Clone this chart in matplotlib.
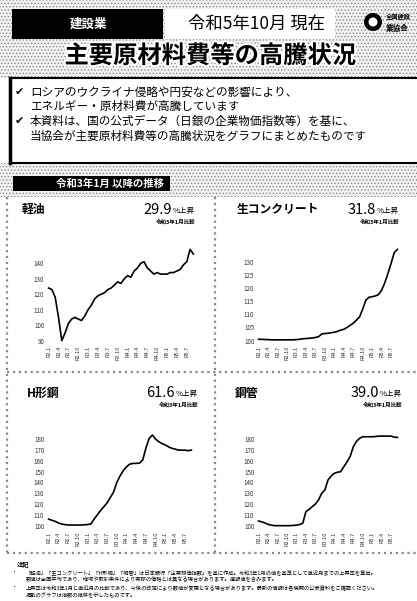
import matplotlib
matplotlib.use('Agg')
import matplotlib.pyplot as plt
import matplotlib.patheffects as pe
from matplotlib.patches import Rectangle, Circle

plt.rcParams['font.family'] = ['Noto Sans CJK JP', 'DejaVu Sans']
plt.rcParams['hatch.linewidth'] = 0.6

# ---------------- data ----------------
x_labels = ['R2.1', 'R2.4', 'R2.7', 'R2.10', 'R3.1', 'R3.4', 'R3.7', 'R3.10',
            'R4.1', 'R4.4', 'R4.7', 'R4.10', 'R5.1', 'R5.4', 'R5.7']

diesel = [124, 123, 118, 105, 90, 95, 101, 104, 105, 104, 103, 106, 110, 113, 117,
          119, 120, 121, 123, 124, 126, 128, 127, 130, 132, 131, 135, 137, 140, 141,
          137, 135, 133, 134, 133, 133, 133, 134, 134, 135, 136, 139, 141, 149, 146]

concrete = [100.5, 100.5, 100.4, 100.4, 100.3, 100.3, 100.3, 100.3, 100.3, 100.3, 100.3,
            100.3, 100.4, 100.5, 100.7, 100.8, 100.9, 101.0, 101.2, 101.5, 102.5, 102.7,
            102.8, 103.0, 103.2, 103.5, 104.0, 104.3, 105.0, 105.8, 106.6, 107.8, 109.0,
            112.0, 115.4, 116.5, 116.7, 117.0, 117.5, 119.2, 122.0, 125.5, 129.4, 133.5,
            134.7]

hbeam = [106, 105, 104, 102.5, 101.5, 101, 100.6, 100.6, 100.5, 100.6, 100.6, 100.8,
         101, 101.5, 106, 110, 114, 117.5, 121, 126, 131, 140, 146, 151, 154.6, 157,
         157.7, 157.7, 158, 160.8, 172, 181, 184, 180, 177.8, 176, 174.7, 173, 171.6,
         171, 170, 170, 170, 169.5, 170]

pipe = [104.3, 103.5, 102.5, 101.2, 100.5, 100, 100, 100, 100, 100, 100, 100.2, 100.5,
        101, 102.2, 113, 115, 117.6, 120, 123.8, 130, 133, 142.3, 146, 148.5, 149.5, 150,
        154.6, 159, 163.9, 173, 178, 180.9, 182.4, 182.4, 182.4, 182.4, 182.6, 183, 183,
        183, 183, 183, 182, 181.8]

titles = ['軽油', '生コンクリート', 'H形鋼', '鋼管']
rates = ['29.9', '31.8', '61.6', '39.0']
series = [diesel, concrete, hbeam, pipe]
yticks = [[90, 100, 110, 120, 130, 140],
          [100, 105, 110, 115, 120, 125, 130],
          [100, 110, 120, 130, 140, 150, 160, 170, 180],
          [100, 110, 120, 130, 140, 150, 160, 170, 180]]
ylims = [(88.5, 151.8), (99.1, 135.6), (96.9, 186.8), (96.9, 186.8)]

# ---------------- layout ----------------
W, H = 417, 601
fig = plt.figure(figsize=(4.17, 6.01), dpi=100)
fig.patch.set_facecolor('white')
bg = fig.add_axes([0, 0, 1, 1])
bg.set_xlim(0, W)
bg.set_ylim(H, 0)
bg.axis('off')


def ax_px(x0, y0, x1, y1):
    return fig.add_axes([x0 / W, 1 - y1 / H, (x1 - x0) / W, (y1 - y0) / H])


def dotted(x, y, w, h):
    bg.add_patch(Rectangle((x, y), w, h, facecolor='#f2f2f2', edgecolor='#8a8a8a',
                           hatch='.....', linewidth=0, zorder=0))


# header backgrounds
dotted(0, 0, W, 78)
dotted(0, 163, W, 34)

# black label box
bg.add_patch(Rectangle((12, 9), 151, 30, facecolor='black', zorder=2))
bg.text(88, 24, '建設業', color='white', fontsize=9, fontweight='bold',
        ha='center', va='center', zorder=3)
# date box
bg.add_patch(Rectangle((165, 9), 170, 30, facecolor='white', zorder=2))
bg.text(257, 24, '令和5年10月 現在', color='black', fontsize=12.5,
        ha='center', va='center', zorder=3)
# logo
bg.add_patch(Circle((373, 22), 9, facecolor='black', zorder=3))
bg.add_patch(Circle((373, 22), 4.5, facecolor='white', zorder=4))
bg.text(386, 17, '全国建設', fontsize=4.5, fontweight='bold', ha='left', va='center', zorder=3)
bg.text(386, 28, '業協会', fontsize=5.5, fontweight='bold', ha='left', va='center', zorder=3)

# title
bg.text(210, 56, '主要原材料費等の高騰状況', fontsize=17.5, fontweight='bold',
        ha='center', va='center', zorder=3,
        path_effects=[pe.withStroke(linewidth=3, foreground='white')])

# info box
bg.add_patch(Rectangle((10, 78), W, 85, facecolor='white', edgecolor='black',
                       linewidth=1.5, zorder=2))
bg.plot([10, 10], [78, 163], color='black', lw=2.5, zorder=3)
lines = [('✔', 'ロシアのウクライナ侵略や円安などの影響により、', 92),
         ('', 'エネルギー・原材料費が高騰しています', 106),
         ('✔', '本資料は、国の公式データ（日銀の企業物価指数等）を基に、', 121),
         ('', '当協会が主要原材料費等の高騰状況をグラフにまとめたものです', 136)]
for mark, txt, y in lines:
    if mark:
        bg.text(15, y, mark, fontsize=8, ha='left', va='center', zorder=3)
    bg.text(30, y, txt, fontsize=8.4, ha='left', va='center', zorder=3)

# section bar
bg.add_patch(Rectangle((13, 176), 157, 15, facecolor='black', zorder=2))
bg.text(110, 183.5, '令和3年1月 以降の推移', color='white', fontsize=7.5,
        fontweight='bold', ha='center', va='center', zorder=3)

# panel area
bg.add_patch(Rectangle((7, 197), W - 7, 356, facecolor='white', zorder=1))
sep = dict(color='#8a8a8a', lw=1.6, ls=':', zorder=2)
bg.plot([7, 7], [197, 553], **sep)
bg.plot([215, 215], [197, 553], **sep)
bg.plot([7, W], [372, 372], **sep)
bg.plot([7, W], [553, 553], **sep)

panel_title_pos = [(22, 209), (237, 210), (27, 393), (235, 393)]
rate_split = [172, 376, 175, 379]
rate_y = [210, 210, 393, 393]
axes_boxes = [(47, 245, 195, 343), (257, 247, 399, 343),
              (47, 432, 193, 529), (257, 432, 399, 529)]

months = list(range(len(diesel)))
tick_pos = list(range(0, len(diesel), 3))

for i in range(4):
    tx, ty = panel_title_pos[i]
    bg.text(tx, ty, titles[i], fontsize=8.5, fontweight='bold', ha='left',
            va='center', zorder=3)
    sx = rate_split[i]
    bg.text(sx, rate_y[i], rates[i], fontsize=10.5, ha='right', va='center', zorder=3)
    bg.text(sx + 1, rate_y[i] + 1, '%上昇', fontsize=5.5, ha='left', va='center', zorder=3)
    bg.text(sx + 24, rate_y[i] + 12, '令和3年1月比較', fontsize=4, fontweight='bold',
            ha='right', va='center', zorder=3)

    ax = ax_px(*axes_boxes[i])
    ax.set_facecolor('none')
    ax.plot(months, series[i], color='black', lw=1.2)
    ax.set_xlim(-0.5, len(diesel) - 0.5)
    ax.set_ylim(*ylims[i])
    ax.set_yticks(yticks[i])
    ax.set_yticklabels([str(v) for v in yticks[i]], fontsize=4.5, color='#333333')
    ax.set_xticks(tick_pos)
    ax.set_xticklabels(x_labels, fontsize=4, rotation=90, color='#333333')
    ax.tick_params(length=0, pad=2)
    for s in ax.spines.values():
        s.set_visible(False)

# footer
bg.text(17, 564, '注記', fontsize=4.5, fontweight='bold', ha='left', va='center')
notes = [('・', '「軽油」「生コンクリート」「H形鋼」「鋼管」は日本銀行「企業物価指数」を基に作成。令和3年1月の値を基準として直近月までの上昇率を算出。', 573),
         ('', '数値は全国平均であり、地域や取引条件により実際の価格とは異なる場合があります。速報値を含みます。', 580),
         ('・', '上昇率は令和3年1月と直近月の比較であり、今後の改定により数値が変更となる場合があります。最新の情報は各機関の公表資料をご確認ください。', 588),
         ('', '掲載のグラフは指数の推移を示したものです。', 595)]
for mark, txt, y in notes:
    if mark:
        bg.text(12, y, mark, fontsize=3.8, ha='left', va='center')
    bg.text(26, y, txt, fontsize=3.8, ha='left', va='center')

fig.savefig('out.png', dpi=100)
